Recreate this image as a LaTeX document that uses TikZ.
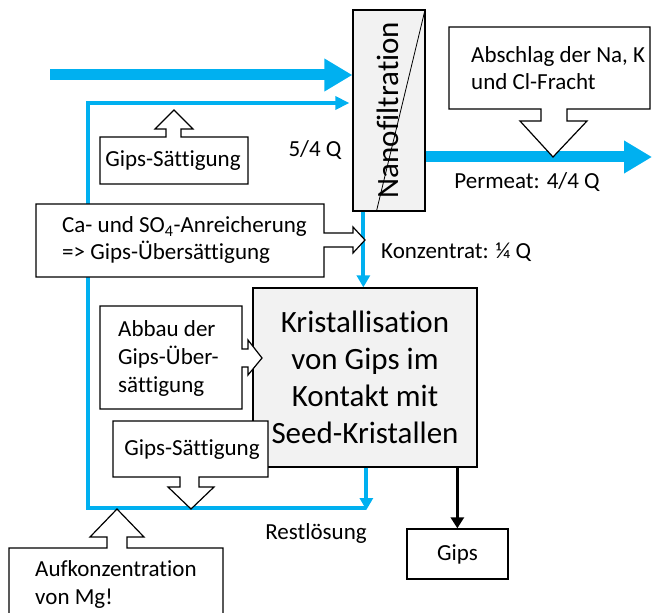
\documentclass[tikz,border=0pt]{standalone}
\usepackage{fontspec}
\setmainfont{Carlito}[Ligatures={NoCommon}]
\usetikzlibrary{arrows.meta,calc}
\definecolor{flow}{HTML}{00B0F0}
\definecolor{unitfill}{HTML}{F2F2F2}
\begin{document}
\begin{tikzpicture}[x=1pt,y=-1pt,
  txt/.style={inner sep=0pt, font=\fontsize{23}{27}\selectfont},
  unit/.style={draw=black, fill=unitfill, line width=1.3pt, inner sep=0pt},
  plainbox/.style={draw=black, fill=white, line width=1.3pt, inner sep=0pt},
  callout/.style={draw=black, fill=white, line width=1.2pt, line join=miter},
  mainflow/.style={draw=flow, line width=11pt, -{Triangle[length=28pt,width=31pt]}},
  sideflow/.style={draw=flow, line width=4pt, line join=miter},
  sidearrow/.style={sideflow, -{Triangle[length=12pt,width=13pt]}},
  solidflow/.style={draw=black, line width=3pt, -{Triangle[length=11pt,width=13pt]}},
]
\useasboundingbox (0,0) rectangle (652,612);

% process units
\node[unit, minimum width=72pt, minimum height=201pt] (nf) at (389,110.5) {};
\node[unit, minimum width=224pt, minimum height=179pt, align=center,
      font=\fontsize{31}{37}\selectfont] (kr) at (365,377.5)
      {Kristallisation\\von Gips im\\Kontakt mit\\Seed-Kristallen};
\node[plainbox, minimum width=101pt, minimum height=50pt, txt] (gips) at (457.5,554) {Gips};

% flow paths
\coordinate (src) at (50,75);
\coordinate (perm) at (652,157);
\coordinate (cz) at ($(nf.south west)+(11,0)$);
\coordinate (rs) at ($(kr.south west)+(114,0)$);
\coordinate (rc) at (88,508);
\coordinate (rt) at (88,103);
\coordinate (gs) at ($(kr.south west)+(205,0)$);

\draw[mainflow] (src) -- (src -| nf.west);
\draw[mainflow] (nf.east |- perm) -- (perm);
\draw[sideflow, -{Triangle[length=14pt,width=13pt]}, shorten >=3pt]
  (rs |- rc) -- (rc) -- (rt) -- (rt -| nf.west);
\draw[sidearrow] (rs) -- ($(rs |- rc)+(0,2)$);
\draw[sidearrow] (cz) -- (cz |- kr.north);
\draw[solidflow] (gs) -- (gs |- gips.north);

% membrane symbol
\draw[line width=0.8pt] ($(nf.south west)+(24,0)$) -- ($(nf.north east)+(-1,2)$);
\node[rotate=90, font=\fontsize{31}{36}\selectfont, inner sep=0pt] (nftext) at (388,110) {Nanofiltration};

% callouts
\draw[callout] (100,137) -- (166,137) -- (166,129) -- (155,129) -- (174,110)
  -- (193,129) -- (181,129) -- (181,137) -- (248,137) -- (248,184) -- (100,184) -- cycle;
\draw[callout] (449,27) -- (650,27) -- (650,109) -- (567,109) -- (567,121) -- (587,121)
  -- (553,157) -- (520,121) -- (541,121) -- (541,109) -- (449,109) -- cycle;
\draw[callout] (36,204) -- (324,204) -- (324,233) -- (353,233) -- (353,227) -- (365,240)
  -- (353,253) -- (353,247) -- (324,247) -- (324,277) -- (36,277) -- cycle;
\draw[callout] (100,306) -- (242,306) -- (242,349) -- (248,349) -- (248,340) -- (262,358)
  -- (248,375) -- (248,367) -- (242,367) -- (242,409) -- (100,409) -- cycle;
\draw[callout] (113,421) -- (268,421) -- (268,477) -- (199,477) -- (199,487) -- (214,487)
  -- (191,509) -- (168,487) -- (180,487) -- (180,477) -- (113,477) -- cycle;
\draw[callout] (9,620) -- (9,548) -- (107,548) -- (107,537) -- (90,537) -- (117,509)
  -- (144,537) -- (127,537) -- (127,548) -- (223,548) -- (223,620);

% texts
\node[txt] (t1) at (173,161) {Gips-Sättigung};
\node[txt] (t2) at (315,150) {5/4 Q};
\node[txt, anchor=west, align=left] (t3) at (471,68) {Abschlag der Na, K\\und Cl-Fracht};
\node[txt] (t4) at (527,182) {Permeat: 4/4 Q};
\node[txt, anchor=west, align=left] (t5) at (62,240) {Ca- und SO\textsubscript{4}-Anreicherung\\=> Gips-Übersättigung};
\node[txt, anchor=west] (t6) at (381,252) {Konzentrat: ¼ Q};
\node[txt, anchor=west, align=left, font=\fontsize{23}{28}\selectfont] (t7) at (118,358) {Abbau der\\Gips-Über-\\sättigung};
\node[txt] (t8) at (192,450) {Gips-Sättigung};
\node[txt] (t9) at (316,533) {Restlösung};
\node[txt, anchor=west, align=left, font=\fontsize{23}{28}\selectfont] (t10) at (35,584) {Aufkonzentration\\von Mg!};
\end{tikzpicture}
\end{document}
